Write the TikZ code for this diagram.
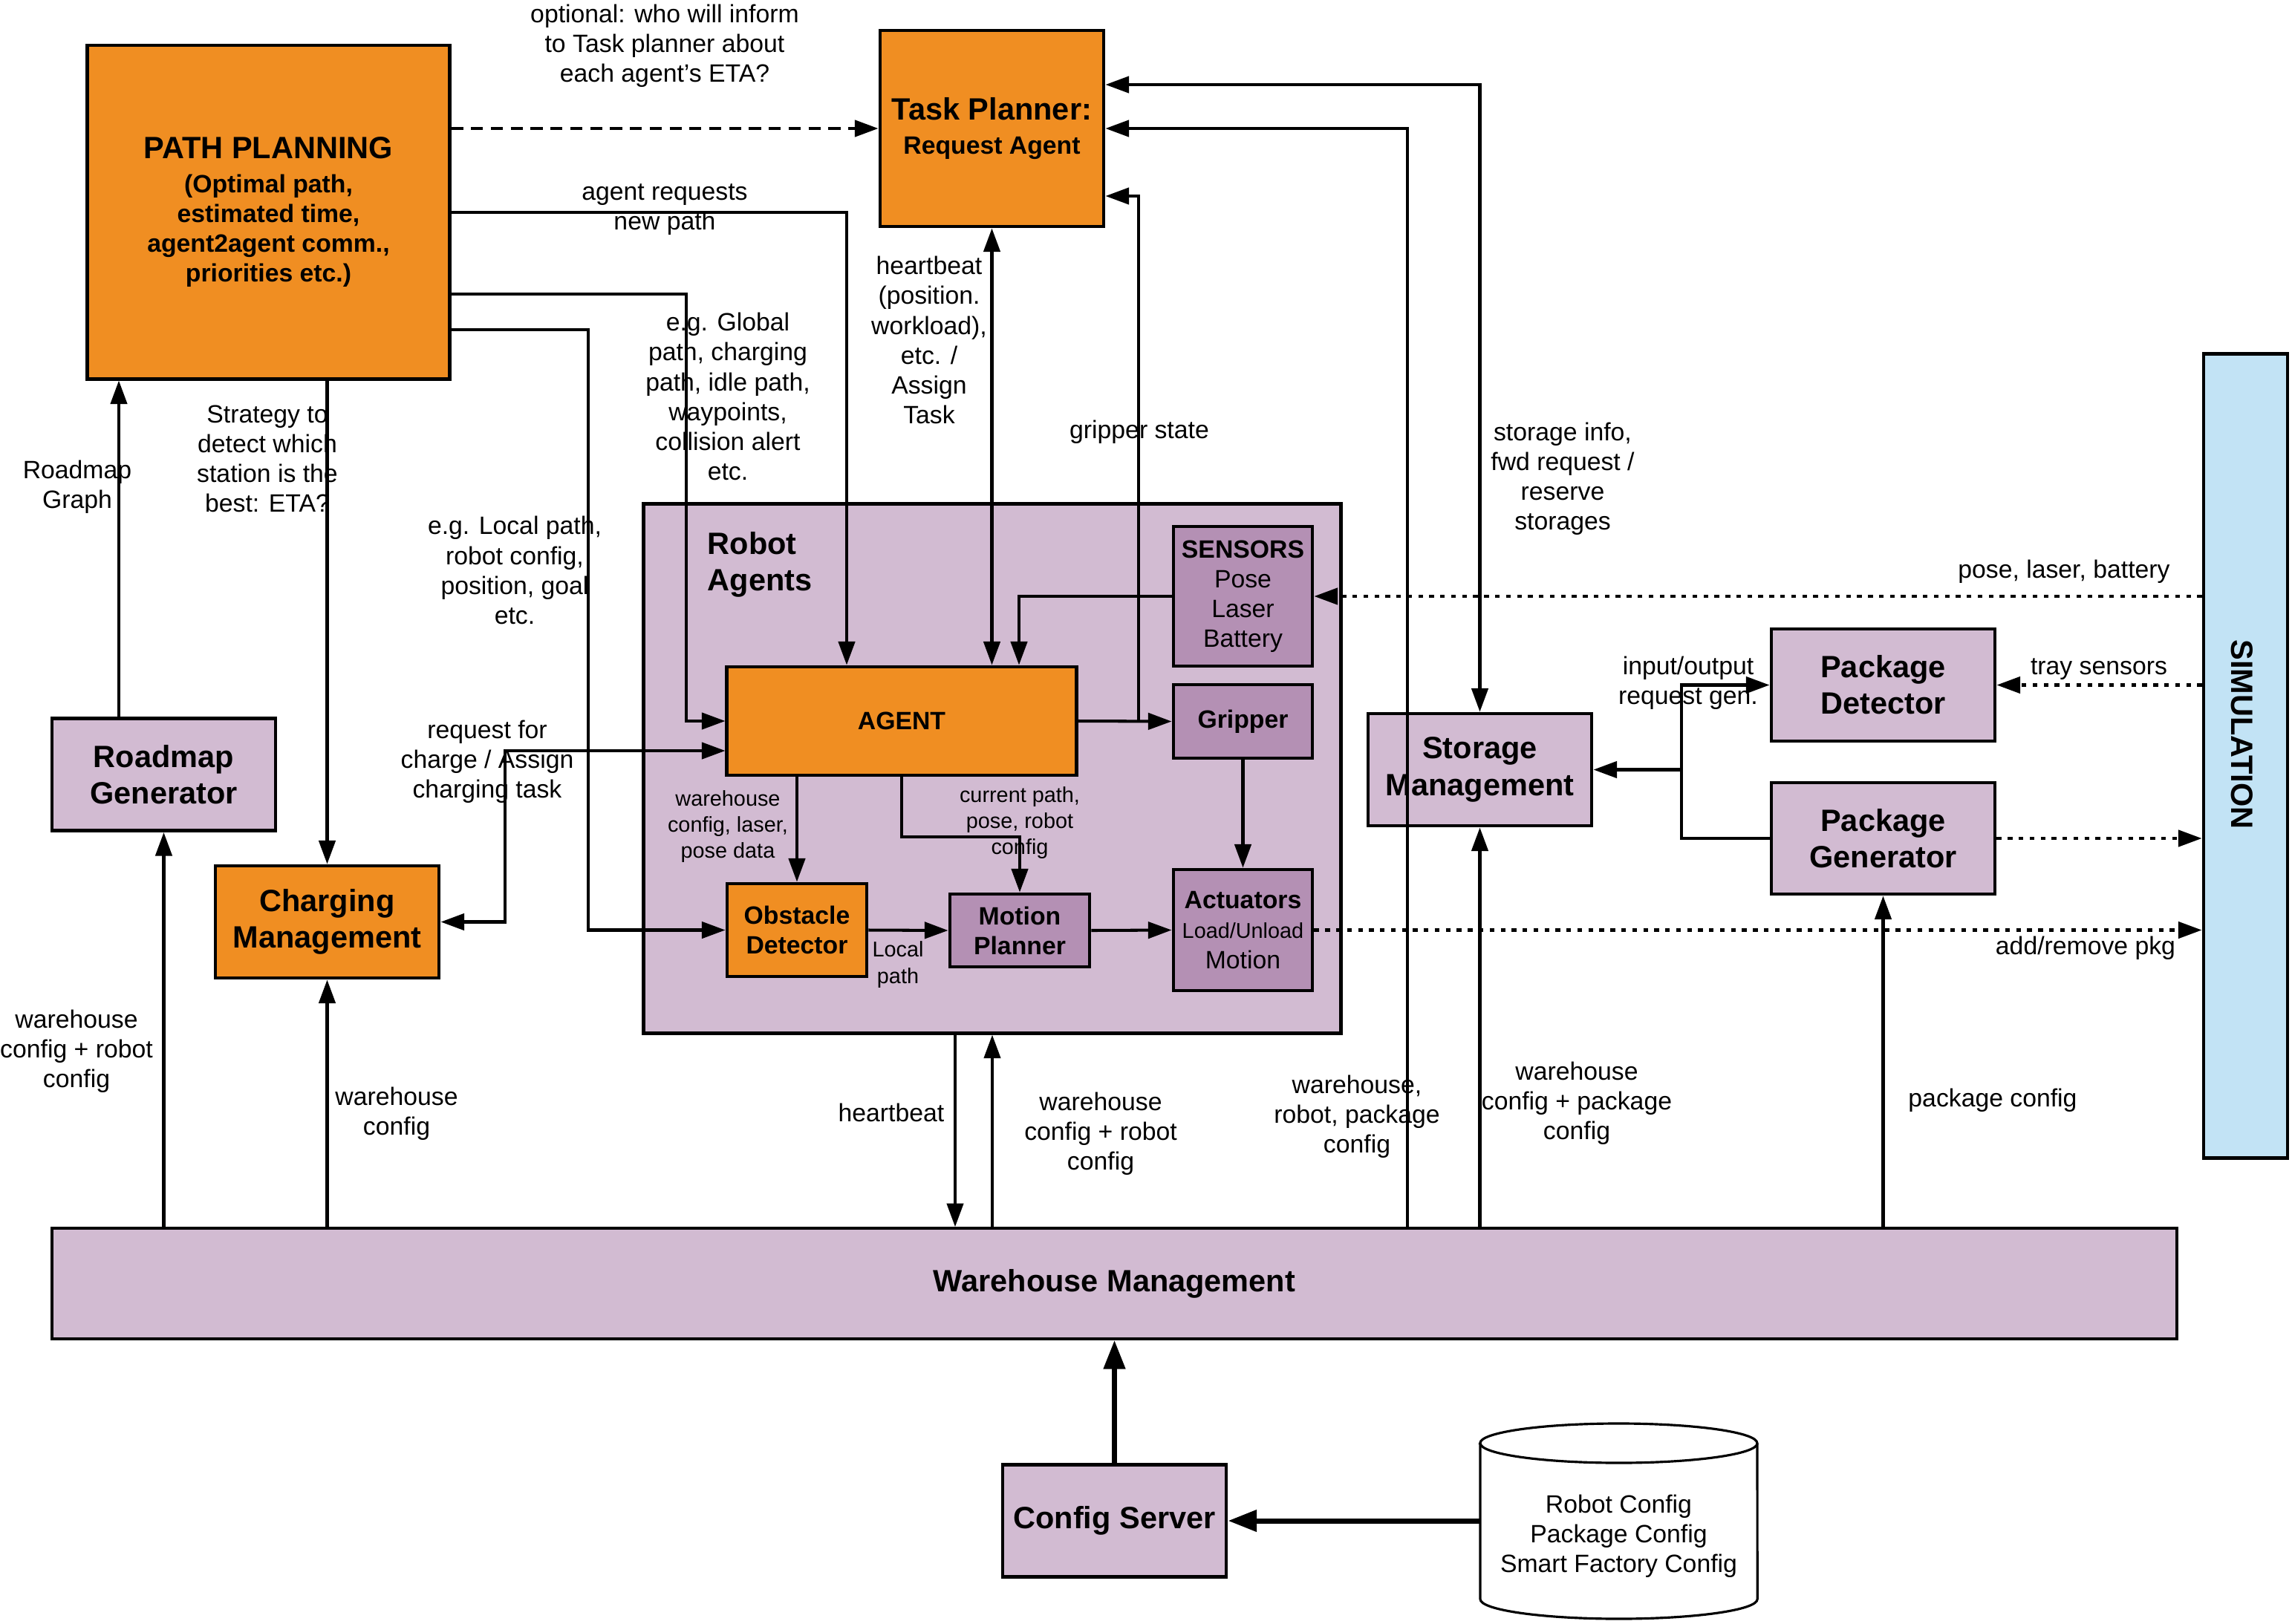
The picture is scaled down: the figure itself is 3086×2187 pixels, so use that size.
\documentclass[tikz,border=0pt]{standalone}
\usepackage{fontspec}
\setmainfont{Liberation Sans}
\usetikzlibrary{arrows.meta}
\definecolor{orng}{HTML}{F08E22}
\definecolor{lpurp}{HTML}{D2BBD2}
\definecolor{dpurp}{HTML}{B490B4}
\definecolor{lblue}{HTML}{C2E3F5}
\newcommand{\lblfont}{\fontsize{9.6}{11.4}\selectfont}
\newcommand{\smfont}{\fontsize{8.2}{10}\selectfont}
\newcommand{\ttlfont}{\fontsize{11.8}{14}\selectfont\bfseries}
\tikzset{
  blk/.style={draw, line width=1.35pt, align=center, inner sep=1pt},
  oblk/.style={blk, fill=orng},
  pblk/.style={blk, fill=lpurp},
  dblk/.style={blk, fill=dpurp},
  lbl/.style={align=center, inner sep=0pt, font=\lblfont},
  slbl/.style={align=center, inner sep=0pt, font=\smfont},
  conn/.style={line width=1.15pt, -{Triangle[length=9pt,width=6.3pt]}},
  biconn/.style={line width=1.15pt, {Triangle[length=9pt,width=6.3pt]}-{Triangle[length=9pt,width=6.3pt]}},
  wire/.style={line width=1.15pt},
  dotconn/.style={conn, dash pattern=on 1.8pt off 2.4pt},
  dashconn/.style={conn, dash pattern=on 4.6pt off 3pt},
  bigconn/.style={line width=2pt, -{Triangle[length=11pt,width=8pt]}},
}
\begin{document}
\begin{tikzpicture}[x=0.01cm,y=-0.01cm]
\useasboundingbox (0,0) rectangle (3086,2187);
% container
\node[pblk, minimum width=9.38cm, minimum height=7.12cm] (ra) at (1336,1035) {};
\node[anchor=west, align=left, inner sep=0pt, font=\ttlfont] (ratitle) at (952,760) {Robot\\Agents};
% boxes
\node[oblk, minimum width=4.87cm, minimum height=4.49cm, font=\bfseries\lblfont] (pp) at (361.5,285.5) {{\ttlfont PATH PLANNING}\\[1.5pt](Optimal path,\\estimated time,\\agent2agent comm.,\\priorities etc.)};
\node[oblk, minimum width=3.01cm, minimum height=2.64cm, font=\bfseries\lblfont] (tp) at (1335.5,173) {{\ttlfont Task Planner:}\\[1.5pt]Request Agent};
\node[oblk, minimum width=4.70cm, minimum height=1.46cm, font=\bfseries\lblfont] (agent) at (1214,971) {AGENT};
\node[dblk, minimum width=1.87cm, minimum height=1.88cm, font=\lblfont] (sensors) at (1673.5,803) {\textbf{SENSORS}\\Pose\\Laser\\Battery};
\node[dblk, minimum width=1.87cm, minimum height=0.99cm, font=\bfseries\lblfont] (gripper) at (1673.5,971.5) {Gripper};
\node[dblk, minimum width=1.87cm, minimum height=1.63cm, font=\lblfont] (act) at (1673.5,1252.5) {\textbf{Actuators}\\\smfont Load/Unload\\Motion};
\node[oblk, minimum width=1.88cm, minimum height=1.25cm, font=\bfseries\lblfont] (obs) at (1073,1252.5) {Obstacle\\Detector};
\node[dblk, minimum width=1.88cm, minimum height=0.98cm, font=\bfseries\lblfont] (mp) at (1373,1253) {Motion\\Planner};
\node[oblk, minimum width=3.01cm, minimum height=1.51cm, font=\ttlfont] (chg) at (440.5,1241.5) {Charging\\Management};
\node[pblk, minimum width=3.01cm, minimum height=1.51cm, font=\ttlfont] (rmg) at (220.5,1043) {Roadmap\\Generator};
\node[pblk, line width=1pt, minimum width=28.59cm, minimum height=1.49cm, font=\ttlfont] (wm) at (1500.5,1728.5) {Warehouse Management};
\node[pblk, minimum width=3.01cm, minimum height=1.51cm, font=\ttlfont] (cs) at (1500.5,2048) {Config Server};
\node[pblk, minimum width=3.01cm, minimum height=1.51cm, font=\ttlfont] (stm) at (1992.5,1036.5) {Storage\\Management};
\node[pblk, minimum width=3.01cm, minimum height=1.51cm, font=\ttlfont] (pkd) at (2535.5,922.5) {Package\\Detector};
\node[pblk, minimum width=3.01cm, minimum height=1.50cm, font=\ttlfont] (pkg) at (2535.5,1129) {Package\\Generator};
\node[blk, fill=lblue, minimum width=1.13cm, minimum height=10.82cm] (sim) at (3023.5,1018) {};
\node[rotate=-90, font=\ttlfont, inner sep=0pt] (simtxt) at (3019,989) {SIMULATION};
% database cylinder
\draw[line width=0.9pt, fill=white] (1993,1943.5) -- (1993,2153.5) arc[start angle=180,end angle=360,x radius=1.865cm,y radius=0.265cm] -- (2366,1943.5) arc[start angle=0,end angle=180,x radius=1.865cm,y radius=0.265cm] -- cycle;
\draw[line width=0.9pt] (1993,1943.5) arc[start angle=180,end angle=360,x radius=1.865cm,y radius=0.265cm];
\node[lbl, minimum width=3.73cm, minimum height=1.5cm] (db) at (2179.5,2069) {Robot Config\\Package Config\\Smart Factory Config};
% connectors
\coordinate (gs) at (1533,971);
\coordinate (jn) at (2264,1036.5);
\draw[dashconn] (pp.east |- tp.west) -- (tp.west);
\draw[conn] (pp.east |- 0,286) -| (agent.north -| 1140,0);
\draw[conn] (pp.east |- 0,396) -- (924,396) |- (agent.west);
\draw[conn] (pp.east |- 0,444) -- (792,444) |- (obs.west);
\draw[conn] (pp.south -| chg.north) -- (chg.north);
\draw[conn] (rmg.north -| 160,0) -- (pp.south -| 160,0);
\draw[conn] (wm.north -| rmg.south) -- (rmg.south);
\draw[conn] (wm.north -| chg.south) -- (chg.south);
\draw[biconn] (chg.east) -| (680,1011) -- (agent.west |- 0,1011);
\draw[biconn] (tp.south) -- (agent.north -| tp.south);
\draw[conn] (sensors.west) -| (agent.north -| 1372,0);
\draw[conn] (agent.east) -- (gripper.west);
\draw[conn] (gs) |- (tp.east |- 0,264);
\draw[conn] (agent.south -| obs.north) -- (obs.north);
\draw[conn] (agent.south) -- ++(0,81) -| (mp.north);
\draw[conn] (obs.east) -- (mp.west);
\draw[conn] (mp.east) -- (act.west);
\draw[conn] (gripper.south) -- (act.north);
\draw[dotconn] (sim.west |- sensors.east) -- (sensors.east);
\draw[dotconn] (sim.west |- pkd.east) -- (pkd.east);
\draw[dotconn] (pkg.east) -- (sim.west |- pkg.east);
\draw[dotconn] (act.east) -- (sim.west |- act.east);
\draw[wire] (pkg.west) -| (jn);
\draw[conn] (jn) -- (stm.east);
\draw[conn] (jn) |- (pkd.west);
\draw[biconn] (stm.north) |- (tp.east |- 0,114);
\draw[conn] (wm.north -| 1895,0) |- (tp.east);
\draw[conn] (wm.north -| stm.south) -- (stm.south);
\draw[conn] (wm.north -| pkg.south) -- (pkg.south);
\draw[conn] (ra.south -| 1286,0) -- (wm.north -| 1286,0);
\draw[conn] (wm.north -| ra.south) -- (ra.south);
\draw[bigconn] (cs.north) -- (wm.south -| cs.north);
\draw[bigconn] (db.west |- cs.east) -- (cs.east);
% labels
\node[lbl] (l1) at (895,62) {optional: who will inform\\to Task planner about\\each agent's ETA?};
\node[lbl] (l2) at (895,282) {agent requests\\new path};
\node[lbl] (l3) at (980,534) {e.g. Global\\path, charging\\path, idle path,\\waypoints,\\collision alert\\etc.};
\node[lbl] (l4) at (360,618) {Strategy to\\detect which\\station is the\\best: ETA?};
\node[lbl] (l5) at (104,656) {Roadmap\\Graph};
\node[lbl] (l6) at (693,768) {e.g. Local path,\\robot config,\\position, goal\\etc.};
\node[lbl] (l7) at (1251,458) {heartbeat\\(position.\\workload),\\etc. /\\Assign\\Task};
\node[lbl] (l8) at (1534,582) {gripper state};
\node[lbl] (l9) at (2104,645) {storage info,\\fwd request /\\reserve\\storages};
\node[lbl] (l10) at (2779,770) {pose, laser, battery};
\node[lbl] (l11) at (2826,901) {tray sensors};
\node[lbl] (l12) at (2273,920) {input/output\\request gen.};
\node[lbl] (l13) at (2808,1277) {add/remove pkg};
\node[lbl] (l14) at (656,1026) {request for\\charge / Assign\\charging task};
\node[slbl] (l15) at (980,1113) {warehouse\\config, laser,\\pose data};
\node[slbl] (l16) at (1373,1108) {current path,\\pose, robot\\config};
\node[slbl] (l17) at (1209,1299) {Local\\path};
\node[lbl] (l18) at (103,1416) {warehouse\\config + robot\\config};
\node[lbl] (l19) at (534,1500) {warehouse\\config};
\node[lbl] (l20) at (1200,1498) {heartbeat};
\node[lbl] (l21) at (1482,1527) {warehouse\\config + robot\\config};
\node[lbl] (l22) at (1827,1504) {warehouse,\\robot, package\\config};
\node[lbl] (l23) at (2123,1486) {warehouse\\config + package\\config};
\node[lbl] (l24) at (2683,1482) {package config};
\end{tikzpicture}
\end{document}
